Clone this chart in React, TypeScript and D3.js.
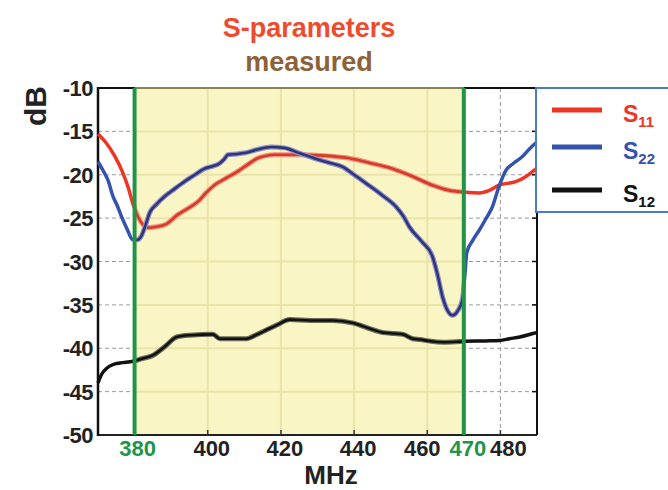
import React from 'react';
import * as d3 from 'd3';

const freqTicks = [380, 400, 420, 440, 460, 470, 480];
const highlightTicks = [380, 470];
const gridFreqs = [400, 420, 440, 460, 480];
const dbTicks = [-10, -15, -20, -25, -30, -35, -40, -45, -50];
const bandStart = 380;
const bandEnd = 470;

const s11Freq = [370, 372, 374.5, 376.5, 378.2, 379.5, 381, 383.6, 386, 388.6, 391.8, 394.5, 397.3, 399.5, 401.8, 405, 408.2, 411, 413.6, 416, 418.2, 425, 432, 438.7, 445, 450.5, 456, 461.4, 466, 470.1, 474.2, 477, 479.6, 484.2, 487, 489.8];
const s11Db = [-15.3, -16.2, -17.8, -19.5, -21.4, -23.3, -24.9, -26.1, -26.0, -25.7, -24.6, -23.9, -23.1, -22.1, -21.2, -20.4, -19.6, -18.8, -18.1, -17.8, -17.7, -17.7, -17.8, -18.1, -18.7, -19.3, -20.2, -21.2, -21.8, -22.0, -22.1, -21.8, -21.2, -20.8, -20.2, -19.3];

const s22Freq = [370, 371.5, 372.7, 374.1, 375.3, 376.4, 378, 379.5, 380.8, 381.8, 383, 384.1, 386, 388.2, 391, 393.6, 396.5, 399.1, 401.5, 403.2, 404.5, 405.5, 408, 410, 413.5, 417.3, 420.9, 425, 429.1, 433, 436.9, 440, 443.3, 447.5, 451.5, 453.5, 455.1, 458.5, 461.4, 462.8, 464.2, 465.5, 466.9, 468.3, 469.6, 470.3, 470.8, 472.4, 474.2, 476, 477.8, 479.5, 481.5, 483.5, 486, 488, 490];
const s22Db = [-18.5, -19.6, -20.6, -22.5, -23.6, -24.8, -26.3, -27.5, -27.5, -27.1, -25.8, -24.4, -23.4, -22.5, -21.6, -20.8, -20.0, -19.3, -19.0, -18.7, -18.2, -17.7, -17.6, -17.5, -17.1, -16.8, -16.9, -17.5, -18.1, -18.6, -19.1, -20.0, -21.0, -22.3, -23.7, -24.8, -26.0, -27.7, -29.4, -31.5, -34.1, -35.6, -36.2, -35.7, -34.4, -31.5, -29.0, -27.6, -26.4, -25.1, -23.7, -21.5, -19.5, -18.7, -17.9, -17.0, -16.2];

const s12Freq = [370, 371, 372.4, 374, 376, 379.6, 382, 385.1, 388.3, 391.5, 395.1, 401.4, 403.3, 410.6, 413, 416, 419, 422.4, 428, 434.3, 439.8, 444, 448, 451, 453.4, 456, 458, 461, 464.4, 470.3, 476, 479.8, 482.5, 485.3, 488.9, 489.8];
const s12Db = [-44.0, -43.0, -42.3, -41.9, -41.7, -41.5, -41.2, -40.8, -39.8, -38.7, -38.5, -38.4, -38.9, -38.9, -38.5, -37.9, -37.3, -36.7, -36.8, -36.8, -37.1, -37.7, -38.2, -38.3, -38.4, -38.9, -39.0, -39.2, -39.3, -39.2, -39.15, -39.1, -38.9, -38.7, -38.3, -38.2];

const seriesNames = ['11', '22', '12'];

const FONT = '"Liberation Sans", Arial, Helvetica, sans-serif';

export default function App() {
  const left = 98, right = 537, top = 88, bottom = 435;
  const x = d3.scaleLinear().domain([370, 490]).range([left, right]);
  const y = d3.scaleLinear().domain([-50, -10]).range([bottom, top]);
  const line = d3
    .line<[number, number]>()
    .x((d) => x(d[0]))
    .y((d) => y(d[1]))
    .curve(d3.curveMonotoneX);

  const zip = (f: number[], v: number[]) => f.map((fv, i) => [fv, v[i]] as [number, number]);

  const series = [
    { name: seriesNames[0], data: zip(s11Freq, s11Db), color: '#ee3524', halo: '#f2907e', core: '#d63a28' },
    { name: seriesNames[1], data: zip(s22Freq, s22Db), color: '#3553ad', halo: '#9090c8', core: '#2e3478' },
    { name: seriesNames[2], data: zip(s12Freq, s12Db), color: '#111111', halo: '#6a6a5a', core: '#111111' },
  ];
  const drawOrder = [2, 0, 1];

  const bx0 = x(bandStart);
  const bx1 = x(bandEnd);
  const green = '#229447';
  const nudge: Record<number, number> = { 380: 3, 400: 4, 420: 4, 440: 4, 460: -5, 470: 4, 480: 8 };

  return (
    <svg
      width={668}
      height={490}
      style={{ position: 'absolute', left: 0, top: 0, background: '#fff' }}
      fontFamily={FONT}
    >
      <defs>
        <clipPath id="outside">
          <rect x={left - 4} y={0} width={bx0 - left + 4} height={490} />
          <rect x={bx1} y={0} width={right - bx1 + 2} height={490} />
        </clipPath>
        <clipPath id="inside">
          <rect x={bx0} y={0} width={bx1 - bx0} height={490} />
        </clipPath>
      </defs>
      <rect x={0} y={0} width={668} height={490} fill="#fff" />

      {/* title */}
      <text x={309} y={37} textAnchor="middle" fontSize={27} fontWeight="bold" fill="#ee4a2e">
        S-parameters
      </text>
      <text x={309} y={71} textAnchor="middle" fontSize={27} fontWeight="bold" fill="#8d6238">
        measured
      </text>

      {/* band */}
      <rect x={bx0} y={top} width={bx1 - bx0} height={bottom - top} fill="#f9f5c4" />

      {/* grid */}
      {dbTicks.slice(1, -1).map((v) => (
        <g key={'gy' + v}>
          <line x1={left} x2={right} y1={y(v)} y2={y(v)} stroke="#9a9a9a" strokeWidth={1} strokeDasharray="4,3" clipPath="url(#outside)" />
          <line x1={bx0} x2={bx1} y1={y(v)} y2={y(v)} stroke="#ebe3a8" strokeWidth={2} />
        </g>
      ))}
      {gridFreqs.map((f) => (
        <g key={'gx' + f}>
          {f > bandEnd || f < bandStart ? (
            <line x1={x(f)} x2={x(f)} y1={top} y2={bottom} stroke="#9a9a9a" strokeWidth={1} strokeDasharray="4,3" />
          ) : (
            <line x1={x(f)} x2={x(f)} y1={top} y2={bottom} stroke="#ebe3a8" strokeWidth={2} />
          )}
        </g>
      ))}

      {/* frame */}
      <line x1={left} x2={right} y1={top} y2={top} stroke="#111" strokeWidth={2} />
      <line x1={bx0} x2={bx1} y1={top} y2={top} stroke="#8c8250" strokeWidth={2} />
      <line x1={right} x2={right} y1={top} y2={bottom} stroke="#111" strokeWidth={2} />
      <line x1={left} x2={right} y1={bottom} y2={bottom} stroke="#222" strokeWidth={2} />
      <line x1={left} x2={left} y1={top - 1} y2={bottom + 1} stroke="#111" strokeWidth={2.5} />
      {dbTicks.slice(1, -1).map((v) => (
        <line key={'rt' + v} x1={right - 5} x2={right} y1={y(v)} y2={y(v)} stroke="#111" strokeWidth={1.5} />
      ))}
      {gridFreqs.map((f) => (
        <line key={'bt' + f} x1={x(f)} x2={x(f)} y1={bottom - 5} y2={bottom} stroke="#333" strokeWidth={1.5} />
      ))}

      {/* curves */}
      {drawOrder.map((i) => {
        const s = series[i];
        const d = line(s.data) || '';
        return (
          <g key={'s' + s.name}>
            <path d={d} fill="none" stroke={s.color} strokeWidth={3.5} strokeLinejoin="round" clipPath="url(#outside)" />
            <g clipPath="url(#inside)">
              <path d={d} fill="none" stroke={s.halo} strokeWidth={5} strokeLinejoin="round" />
              <path d={d} fill="none" stroke={s.core} strokeWidth={2.6} strokeLinejoin="round" />
            </g>
          </g>
        );
      })}

      {/* band edges */}
      <line x1={bx0} x2={bx0} y1={top} y2={bottom} stroke={green} strokeWidth={4} />
      <line x1={bx1} x2={bx1} y1={top} y2={bottom} stroke={green} strokeWidth={4} />

      {/* y tick labels */}
      {dbTicks.map((v) => (
        <text key={'yl' + v} x={93} y={y(v) + 8} textAnchor="end" fontSize={22} fontWeight="bold" fill="#222" letterSpacing={-0.5}>
          {v}
        </text>
      ))}
      {/* x tick labels */}
      {freqTicks.map((f) => (
        <text
          key={'xl' + f}
          x={x(f) + (nudge[f] || 0)}
          y={456}
          textAnchor="middle"
          fontSize={22}
          fontWeight="bold"
          fill={highlightTicks.includes(f) ? green : '#222'}
        >
          {f}
        </text>
      ))}

      {/* axis titles */}
      <text x={331} y={484} textAnchor="middle" fontSize={26} fontWeight="bold" fill="#222">
        MHz
      </text>
      <text transform="translate(46,106) rotate(-90)" textAnchor="middle" fontSize={30} fontWeight="bold" fill="#222">
        dB
      </text>

      {/* legend */}
      <rect x={536} y={88} width={150} height={124} fill="#fff" stroke="#4a7cc4" strokeWidth={2} />
      {series.map((s, i) => {
        const ly = [110, 147, 190][i];
        return (
          <g key={'lg' + s.name}>
            <line x1={552} x2={602} y1={ly} y2={ly} stroke={s.color} strokeWidth={5} />
            <text x={623} y={ly + 12} fontSize={23} fontWeight="bold" fill={s.color}>
              S
              <tspan fontSize={15} dy={5}>
                {s.name}
              </tspan>
            </text>
          </g>
        );
      })}
    </svg>
  );
}
